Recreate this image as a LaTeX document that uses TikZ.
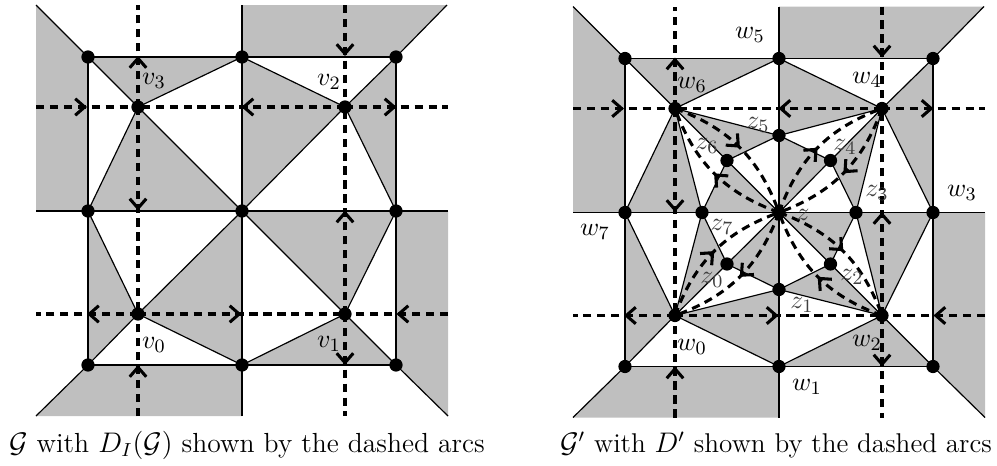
\documentclass[tikz,border=0pt]{standalone}
\usetikzlibrary{arrows.meta,decorations.markings}
\tikzset{
  face/.style={fill=black!25, draw=none},
  edge/.style={line width=0.5pt, black},
  dual/.style={line width=1.3pt, dash pattern=on 3.5pt off 2.4pt,
    postaction={decorate},
    decoration={markings, mark=at position 0.5 with {\arrow{Straight Barb[length=4pt,width=7pt,line width=1.3pt]}}}},
  vtx/.style={circle, fill=black, inner sep=0pt, minimum size=5.6pt},
  lab/.style={font=\fontsize{11}{13}\selectfont, inner sep=0pt},
  zlab/.style={lab, text=black!75},
  captext/.style={font=\fontsize{11.5}{13}\selectfont, inner sep=0pt},
}
\begin{document}
\begin{tikzpicture}[x=0.4237pt,y=-0.4237pt]
\useasboundingbox (0,0) rectangle (997,466);
% ---------------- left figure ----------------
\begin{scope}
\coordinate (aP00) at (88,57);  \coordinate (aP10) at (242,57);  \coordinate (aP20) at (396,57);
\coordinate (aP01) at (88,211); \coordinate (aP11) at (242,211); \coordinate (aP21) at (396,211);
\coordinate (aP02) at (88,365); \coordinate (aP12) at (242,365); \coordinate (aP22) at (396,365);
\coordinate (aO1) at (36,5);   \coordinate (aO2) at (36,211);
\coordinate (aO3) at (242,5);  \coordinate (aO4) at (447,5);
\coordinate (aO5) at (448,211);\coordinate (aO6) at (448,416);
\coordinate (aO7) at (242,416);\coordinate (aO8) at (36,416);
\coordinate (av3) at (138,107); \coordinate (av2) at (345,107);
\coordinate (av0) at (138,314); \coordinate (av1) at (345,314);
\coordinate (aT0) at (138,5);  \coordinate (aT1) at (345,5);
\coordinate (aB0) at (138,416);\coordinate (aB1) at (345,416);
\coordinate (aL0) at (36,107); \coordinate (aL1) at (36,314);
\coordinate (aR0) at (448,107);\coordinate (aR1) at (448,314);
% faces
\fill[face] (aO1) -- (aP00) -- (aP01) -- (aO2) -- cycle;
\fill[face] (aO3) -- (aO4) -- (aP20) -- (aP10) -- cycle;
\fill[face] (aP21) -- (aO5) -- (aO6) -- (aP22) -- cycle;
\fill[face] (aO8) -- (aP02) -- (aP12) -- (aO7) -- cycle;
\fill[face] (av3) -- (aP00) -- (aP10) -- cycle;
\fill[face] (av3) -- (aP01) -- (aP11) -- cycle;
\fill[face] (av2) -- (aP10) -- (aP11) -- cycle;
\fill[face] (av2) -- (aP20) -- (aP21) -- cycle;
\fill[face] (av0) -- (aP01) -- (aP02) -- cycle;
\fill[face] (av0) -- (aP11) -- (aP12) -- cycle;
\fill[face] (av1) -- (aP11) -- (aP21) -- cycle;
\fill[face] (av1) -- (aP12) -- (aP22) -- cycle;
% edges
\draw[edge] (aP00) -- (aP20);
\draw[edge] (aO2) -- (aO5);
\draw[edge] (aP02) -- (aP22);
\draw[edge] (aP00) -- (aP02);
\draw[edge] (aO3) -- (aO7);
\draw[edge] (aP20) -- (aP22);
\draw[edge] (aO1) -- (aP00);
\draw[edge] (aO4) -- (aP20);
\draw[edge] (aP22) -- (aO6);
\draw[edge] (aP02) -- (aO8);
\foreach \p in {aP00,aP10,aP01,aP11} \draw[edge] (av3) -- (\p);
\foreach \p in {aP10,aP20,aP11,aP21} \draw[edge] (av2) -- (\p);
\foreach \p in {aP01,aP11,aP02,aP12} \draw[edge] (av0) -- (\p);
\foreach \p in {aP11,aP21,aP12,aP22} \draw[edge] (av1) -- (\p);
% dual arcs
\draw[dual] (av3) -- (aT0);
\draw[dual] (av3) -- (av0);
\draw[dual] (aB0) -- (av0);
\draw[dual] (aT1) -- (av2);
\draw[dual] (av1) -- (av2);
\draw[dual] (av1) -- (aB1);
\draw[dual] (aL0) -- (av3);
\draw[dual] (av2) -- (av3);
\draw[dual] (av2) -- (aR0);
\draw[dual] (av0) -- (aL1);
\draw[dual] (av0) -- (av1);
\draw[dual] (aR1) -- (av1);
% vertices
\foreach \p in {aP00,aP10,aP20,aP01,aP11,aP21,aP02,aP12,aP22,av3,av2,av0,av1}
  \node[vtx] (\p d) at (\p) {};
\end{scope}
% ---------------- right figure ----------------
\begin{scope}[shift={(537,1.5)}]
\coordinate (bP00) at (88,57);  \coordinate (bP10) at (242,57);  \coordinate (bP20) at (396,57);
\coordinate (bP01) at (88,211); \coordinate (bP11) at (242,211); \coordinate (bP21) at (396,211);
\coordinate (bP02) at (88,365); \coordinate (bP12) at (242,365); \coordinate (bP22) at (396,365);
\coordinate (bO1) at (36,5);   \coordinate (bO2) at (36,211);
\coordinate (bO3) at (242,5);  \coordinate (bO4) at (447,5);
\coordinate (bO5) at (448,211);\coordinate (bO6) at (448,416);
\coordinate (bO7) at (242,416);\coordinate (bO8) at (36,416);
\coordinate (bw6) at (138,107); \coordinate (bw4) at (345,107);
\coordinate (bw0) at (138,314); \coordinate (bw2) at (345,314);
\coordinate (bz5) at (242,134);   \coordinate (bz4) at (293.5,159);
\coordinate (bz3) at (319,211);   \coordinate (bz2) at (293.5,262.5);
\coordinate (bz1) at (242,288);   \coordinate (bz0) at (190,262.5);
\coordinate (bz7) at (165,211);   \coordinate (bz6) at (190,159);
\coordinate (bT0) at (138,5);  \coordinate (bT1) at (345,5);
\coordinate (bB0) at (138,416);\coordinate (bB1) at (345,416);
\coordinate (bL0) at (36,107); \coordinate (bL1) at (36,314);
\coordinate (bR0) at (448,107);\coordinate (bR1) at (448,314);
% faces
\fill[face] (bO1) -- (bP00) -- (bP01) -- (bO2) -- cycle;
\fill[face] (bO3) -- (bO4) -- (bP20) -- (bP10) -- cycle;
\fill[face] (bP21) -- (bO5) -- (bO6) -- (bP22) -- cycle;
\fill[face] (bO8) -- (bP02) -- (bP12) -- (bO7) -- cycle;
\fill[face] (bw6) -- (bP00) -- (bP10) -- cycle;
\fill[face] (bw6) -- (bz5) -- (bz6) -- cycle;
\fill[face] (bw6) -- (bz7) -- (bP01) -- cycle;
\fill[face] (bP11) -- (bz6) -- (bz7) -- cycle;
\fill[face] (bw4) -- (bP20) -- (bP21) -- cycle;
\fill[face] (bw4) -- (bz3) -- (bz4) -- cycle;
\fill[face] (bw4) -- (bz5) -- (bP10) -- cycle;
\fill[face] (bP11) -- (bz5) -- (bz4) -- cycle;
\fill[face] (bw0) -- (bP01) -- (bP02) -- cycle;
\fill[face] (bw0) -- (bz7) -- (bz0) -- cycle;
\fill[face] (bw0) -- (bz1) -- (bP12) -- cycle;
\fill[face] (bP11) -- (bz1) -- (bz0) -- cycle;
\fill[face] (bw2) -- (bz3) -- (bP21) -- cycle;
\fill[face] (bw2) -- (bP22) -- (bP12) -- cycle;
\fill[face] (bw2) -- (bz1) -- (bz2) -- cycle;
\fill[face] (bP11) -- (bz3) -- (bz2) -- cycle;
% edges
\draw[edge] (bP00) -- (bP20);
\draw[edge] (bO2) -- (bO5);
\draw[edge] (bP02) -- (bP22);
\draw[edge] (bP00) -- (bP02);
\draw[edge] (bO3) -- (bO7);
\draw[edge] (bP20) -- (bP22);
\draw[edge] (bO1) -- (bP00);
\draw[edge] (bO4) -- (bP20);
\draw[edge] (bP22) -- (bO6);
\draw[edge] (bP02) -- (bO8);
\foreach \p in {bP00,bP10,bP01,bz7,bz5,bP11} \draw[edge] (bw6) -- (\p);
\foreach \p in {bP10,bP20,bP21,bz3,bz5,bP11} \draw[edge] (bw4) -- (\p);
\foreach \p in {bP01,bP02,bP12,bz7,bz1,bP11} \draw[edge] (bw0) -- (\p);
\foreach \p in {bP21,bP22,bP12,bz3,bz1,bP11} \draw[edge] (bw2) -- (\p);
\draw[edge] (bz5) -- (bz4) -- (bz3) -- (bz2) -- (bz1) -- (bz0) -- (bz7) -- (bz6) -- cycle;
% dual arcs
\draw[dual] (bw6) -- (bT0);
\draw[dual] (bw6) -- (bw0);
\draw[dual] (bB0) -- (bw0);
\draw[dual] (bT1) -- (bw4);
\draw[dual] (bw2) -- (bw4);
\draw[dual] (bw2) -- (bB1);
\draw[dual] (bL0) -- (bw6);
\draw[dual] (bw4) -- (bw6);
\draw[dual] (bw4) -- (bR0);
\draw[dual] (bw0) -- (bL1);
\draw[dual] (bw0) -- (bw2);
\draw[dual] (bR1) -- (bw2);
\draw[dual] (bw6) to[bend left=25] (bP11);
\draw[dual] (bP11) to[bend left=25] (bw6);
\draw[dual] (bP11) to[bend left=25] (bw4);
\draw[dual] (bw4) to[bend left=25] (bP11);
\draw[dual] (bw0) to[bend left=25] (bP11);
\draw[dual] (bP11) to[bend left=25] (bw0);
\draw[dual] (bP11) to[bend left=25] (bw2);
\draw[dual] (bw2) to[bend left=25] (bP11);
% vertices
\foreach \p in {bP00,bP10,bP20,bP01,bP11,bP21,bP02,bP12,bP22,bw6,bw4,bw0,bw2,bz0,bz1,bz2,bz3,bz4,bz5,bz6,bz7}
  \node[vtx] (\p d) at (\p) {};
\end{scope}
% ---------------- labels ----------------
\node[lab] (lv3) at (154,81) {$v_3$};
\node[lab] (lv2) at (329,82) {$v_2$};
\node[lab] (lv0) at (154,345) {$v_0$};
\node[lab] (lv1) at (329,344) {$v_1$};
\node[lab] (lw5) at (750,35) {$w_5$};
\node[lab] (lw6) at (692,85) {$w_6$};
\node[lab] (lw4) at (867,80) {$w_4$};
\node[lab] (lw3) at (962,193) {$w_3$};
\node[lab] (lw7) at (595,232) {$w_7$};
\node[lab] (lw0) at (692,347) {$w_0$};
\node[lab] (lw2) at (867,343) {$w_2$};
\node[lab] (lw1) at (807,387) {$w_1$};
\node[zlab] (lz5) at (758,125) {$z_5$};
\node[zlab] (lz6) at (707,146) {$z_6$};
\node[zlab] (lz7) at (722,227) {$z_7$};
\node[zlab] (lz0) at (712,280) {$z_0$};
\node[zlab] (lz1) at (802,305) {$z_1$};
\node[zlab] (lz2) at (852,277) {$z_2$};
\node[zlab] (lz3) at (877,193) {$z_3$};
\node[zlab] (lz4) at (845,147) {$z_4$};
\node[zlab] (lz) at (803,215) {$z$};
\node[captext, font=\fontsize{11.7}{14}\selectfont] (capA) at (247,445) {$\mathcal{G}$ with $D_I(\mathcal{G})$ shown by the dashed arcs};
\node[captext] (capB) at (776,445) {$\mathcal{G}'$ with $D'$ shown by the dashed arcs};
\end{tikzpicture}
\end{document}
